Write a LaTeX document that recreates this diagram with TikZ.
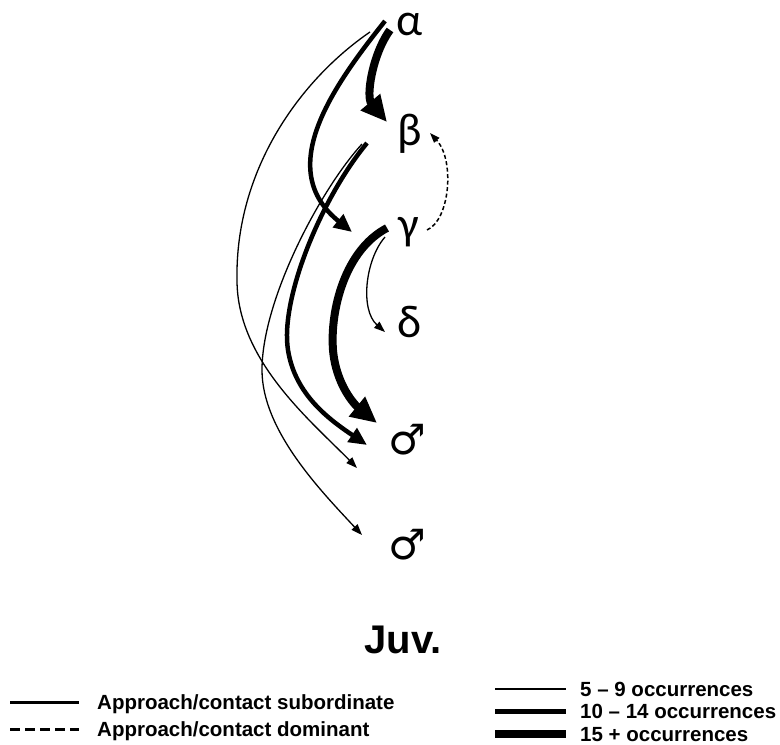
\documentclass[tikz,border=0pt]{standalone}
\usepackage{fontspec}
\setmainfont{Liberation Sans}
\newfontfamily\greekfont{Carlito}
\newfontfamily\symfont{DejaVu Sans}
\usetikzlibrary{arrows.meta}
\begin{document}
\begin{tikzpicture}[x=1pt,y=-1pt,
  lab/.style={inner sep=0pt,font=\greekfont\fontsize{46}{46}\selectfont},
  sym/.style={inner sep=0pt,font=\symfont\fontsize{42}{42}\selectfont},
  thinarr/.style={line width=1.3pt,-{Triangle[length=11pt,width=8pt]}},
  medarr/.style={line width=4.5pt,-{Triangle[length=18pt,width=16pt]}},
  thickarr/.style={line width=8pt,-{Triangle[length=26pt,width=24pt]}},
  domarr/.style={line width=1.5pt,dash pattern=on 4pt off 2.5pt,-{Triangle[length=10pt,width=7pt]}},
  legtext/.style={inner sep=0pt,anchor=base west,font=\bfseries\fontsize{20.5}{20.5}\selectfont}
]
\useasboundingbox (0,0) rectangle (780,745);
% nodes
\node[lab] (a) at (410,24) {α};
\node[lab] (b) at (410,134) {β};
\node[lab] (g) at (409,232) {γ};
\node[lab] (d) at (410,322) {δ};
\node[sym] (m1) at (407,440) {♂};
\node[sym] (m2) at (407,545) {♂};
% connectors
\draw[thickarr] ([shift={(-20,6)}]a.center) .. controls ([shift={(-38,31)}]a.center) and ([shift={(-44,-37)}]b.center) .. ([shift={(-23,-12)}]b.center);
\draw[medarr] ([shift={(-25,-3)}]a.center) .. controls ([shift={(-80,66)}]a.center) and ([shift={(-134,-62)}]g.center) .. ([shift={(-57,0)}]g.center);
\draw[thinarr] ([shift={(-40,8)}]a.center) .. controls ([shift={(-110,56)}]a.center) and ([shift={(-175,146)}]a.center) .. ([shift={(-173,256)}]a.center)
   .. controls ([shift={(-170,-80)}]m1.center) and ([shift={(-97,-20)}]m1.center) .. ([shift={(-50,28)}]m1.center);
\draw[thinarr] ([shift={(-48,10)}]b.center) .. controls ([shift={(-90,56)}]b.center) and ([shift={(-148,166)}]b.center) .. ([shift={(-148,236)}]b.center)
   .. controls ([shift={(-145,-115)}]m2.center) and ([shift={(-87,-55)}]m2.center) .. ([shift={(-45,-10)}]m2.center);
\draw[medarr] ([shift={(-43,9)}]b.center) .. controls ([shift={(-90,66)}]b.center) and ([shift={(-130,166)}]b.center) .. ([shift={(-122,216)}]b.center)
   .. controls ([shift={(-112,-45)}]m1.center) and ([shift={(-77,-20)}]m1.center) .. ([shift={(-40,5)}]m1.center);
\draw[thickarr] ([shift={(-22,-4)}]g.center) .. controls ([shift={(-64,18)}]g.center) and ([shift={(-79,78)}]g.center) .. ([shift={(-76,118)}]g.center)
   .. controls ([shift={(-71,-55)}]m1.center) and ([shift={(-52,-35)}]m1.center) .. ([shift={(-30,-17)}]m1.center);
\draw[thinarr] ([shift={(-24,5)}]g.center) .. controls ([shift={(-44,28)}]g.center) and ([shift={(-50,-12)}]d.center) .. ([shift={(-25,10)}]d.center);
\draw[domarr] ([shift={(18,-2)}]g.center) .. controls ([shift={(41,-12)}]g.center) and ([shift={(45,26)}]b.center) .. ([shift={(20,-1)}]b.center);
% title
\node[inner sep=0pt,anchor=base,font=\bfseries\fontsize{40}{40}\selectfont] (juv) at (403,653) {Juv.};
% legend left
\coordinate (l1a) at (10,702); \coordinate (l1b) at (79,702);
\coordinate (l2a) at (10,729); \coordinate (l2b) at (79,729);
\draw[line width=3pt] (l1a) -- (l1b);
\draw[line width=3pt,dash pattern=on 10pt off 5pt] (l2a) -- (l2b);
\node[legtext] (t1) at (97,709) {Approach/contact subordinate};
\node[legtext] (t2) at (97,736) {Approach/contact dominant};
% legend right
\coordinate (r1a) at (495,689); \coordinate (r1b) at (566,689);
\coordinate (r2a) at (495,711); \coordinate (r2b) at (566,711);
\coordinate (r3a) at (495,734); \coordinate (r3b) at (566,734);
\draw[line width=1.3pt] (r1a) -- (r1b);
\draw[line width=5pt] (r2a) -- (r2b);
\draw[line width=8pt] (r3a) -- (r3b);
\node[legtext] (t3) at (580,696) {5 – 9 occurrences};
\node[legtext] (t4) at (580,718) {10 – 14 occurrences};
\node[legtext] (t5) at (580,741) {15 + occurrences};
\end{tikzpicture}
\end{document}
